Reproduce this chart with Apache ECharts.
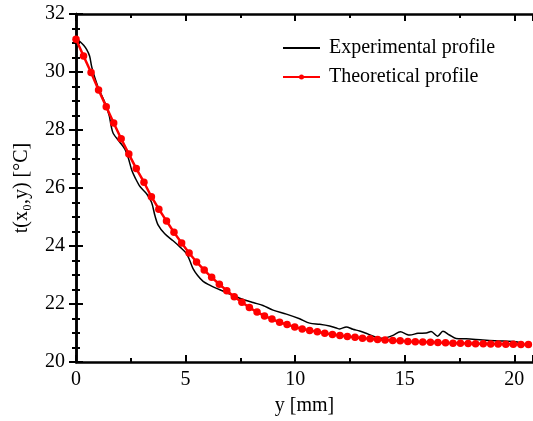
<!DOCTYPE html>
<html><head><meta charset="utf-8">
<script src="https://cdn.jsdelivr.net/npm/echarts@6/dist/echarts.min.js"></script>
<style>html,body{margin:0;padding:0;background:#fff}#c{width:533px;height:421px}</style>
</head><body><div id="c"></div>
<script>
// Theoretical profile: positions (mm) and temperatures (°C)
const theoY = [0,0.344,0.688,1.03,1.38,1.72,2.06,2.41,2.75,3.10,3.44,3.78,4.13,4.47,4.82,5.16,5.50,5.85,6.19,6.54,6.88,7.22,7.57,7.91,8.26,8.60,8.94,9.29,9.63,9.98,10.32,10.66,11.01,11.35,11.70,12.04,12.38,12.73,13.07,13.42,13.76,14.10,14.45,14.79,15.14,15.48,15.82,16.17,16.51,16.86,17.20,17.54,17.89,18.23,18.58,18.92,19.26,19.61,19.95,20.30,20.64];
const theoT = [31.13,30.55,29.98,29.38,28.80,28.24,27.70,27.17,26.67,26.20,25.70,25.27,24.86,24.47,24.10,23.76,23.45,23.17,22.92,22.68,22.46,22.25,22.06,21.88,21.72,21.59,21.48,21.37,21.29,21.21,21.14,21.09,21.04,20.99,20.95,20.91,20.88,20.85,20.82,20.80,20.78,20.76,20.74,20.73,20.71,20.70,20.69,20.68,20.67,20.66,20.65,20.65,20.64,20.63,20.63,20.62,20.62,20.61,20.61,20.60,20.60];
// Experimental profile
const expY = [0,0.18,0.35,0.49,0.62,0.71,0.79,1.02,1.32,1.52,1.60,1.70,2.0,2.23,2.38,2.55,2.7,2.92,3.22,3.45,3.6,3.75,4.05,4.43,4.74,5.04,5.19,5.34,5.55,5.80,6.1,6.41,6.7,7.02,7.47,8.08,8.53,8.99,9.6,10.2,10.66,11.12,11.57,11.88,12.03,12.33,12.63,12.94,13.2,13.6,13.9,14.16,14.46,14.8,15.1,15.22,15.6,15.98,16.2,16.5,16.74,17.04,17.34,17.8,18.56,19.47,20.0,20.35];
const expT = [31.13,31.05,30.92,30.77,30.55,30.2,29.97,29.45,28.94,28.48,28.15,27.88,27.58,27.34,27.05,26.6,26.35,26.05,25.8,25.5,25.05,24.72,24.42,24.18,23.97,23.74,23.5,23.22,22.98,22.78,22.65,22.54,22.45,22.34,22.2,22.05,21.95,21.79,21.65,21.49,21.34,21.30,21.24,21.17,21.14,21.21,21.13,21.07,21.0,20.88,20.82,20.84,20.92,21.04,20.95,20.93,20.99,21.0,21.05,20.89,21.06,20.93,20.81,20.80,20.76,20.72,20.71,20.64];
const xTicks = [0,5,10,15,20];
const yTicks = [20,22,24,26,28,30,32];

const FONT = 'Liberation Serif';
const chart = echarts.init(document.getElementById('c'), null, {renderer:'canvas'});
const axLine = {show:true, lineStyle:{color:'#000', width:2.5}};
const mkX = (pos, labels) => ({
  type:'value', position:pos, min:0, max:20.85, interval:5,
  axisLine:axLine,
  axisTick:{show:true, inside:true, length:7, lineStyle:{color:'#000', width:2}},
  minorTick:{show:true, splitNumber:2, length:4, lineStyle:{color:'#000', width:2}},
  splitLine:{show:false}, minorSplitLine:{show:false},
  axisLabel:{show:labels, showMaxLabel:false, margin:8, color:'#000', fontFamily:FONT, fontSize:20,
    formatter: v => xTicks.includes(v) ? String(v) : ''},
  name: labels ? 'y [mm]' : '', nameLocation:'middle', nameGap:34,
  nameTextStyle:{color:'#000', fontFamily:FONT, fontSize:20}
});
const mkY = (pos, labels) => ({
  type:'value', position:pos, min:20, max:32, interval:2,
  axisLine:axLine,
  axisTick:{show:true, inside:true, length:7, lineStyle:{color:'#000', width:2}},
  minorTick:{show:true, splitNumber:4, length:4, lineStyle:{color:'#000', width:2}},
  splitLine:{show:false}, minorSplitLine:{show:false},
  axisLabel:{show:labels, margin:11, color:'#000', fontFamily:FONT, fontSize:20,
    formatter: v => yTicks.includes(v) ? String(v) : ''},
  name: labels ? 't(x₀,y) [°C]' : '', nameLocation:'middle', nameGap:44,
  nameTextStyle:{color:'#000', fontFamily:FONT, fontSize:20}
});
chart.setOption({
  animation:false,
  backgroundColor:'#fff',
  grid:{left:76, top:14, right:-1, bottom:57},
  legend:{
    orient:'vertical', left:278, top:33, itemWidth:37, itemHeight:12, itemGap:9,
    textStyle:{color:'#000', fontFamily:FONT, fontSize:20, padding:[0,0,0,4]},
    data:[
      {name:'Experimental profile', icon:'path://M0,0L37,0L37,1.8L0,1.8Z'},
      {name:'Theoretical profile', icon:'path://M0,2L37,2L37,4L0,4Z M21,3A2.5,2.5 0 1 1 16,3A2.5,2.5 0 1 1 21,3Z'}
    ]
  },
  xAxis:[mkX('bottom', true), mkX('top', false)],
  yAxis:[mkY('left', true), mkY('right', false)],
  series:[
    {name:'Experimental profile', type:'line', xAxisIndex:0, yAxisIndex:0,
     data: expY.map((x,i)=>[x, expT[i]]), showSymbol:false, symbol:'none', smooth:0.3,
     lineStyle:{color:'#000', width:1.5}, itemStyle:{color:'#000'}},
    {name:'Theoretical profile', type:'line', xAxisIndex:0, yAxisIndex:0,
     data: theoY.map((x,i)=>[x, theoT[i]]), symbol:'circle', symbolSize:7.5,
     lineStyle:{color:'#ff0000', width:2.5}, itemStyle:{color:'#ff0000'}}
  ]
});
</script></body></html>
